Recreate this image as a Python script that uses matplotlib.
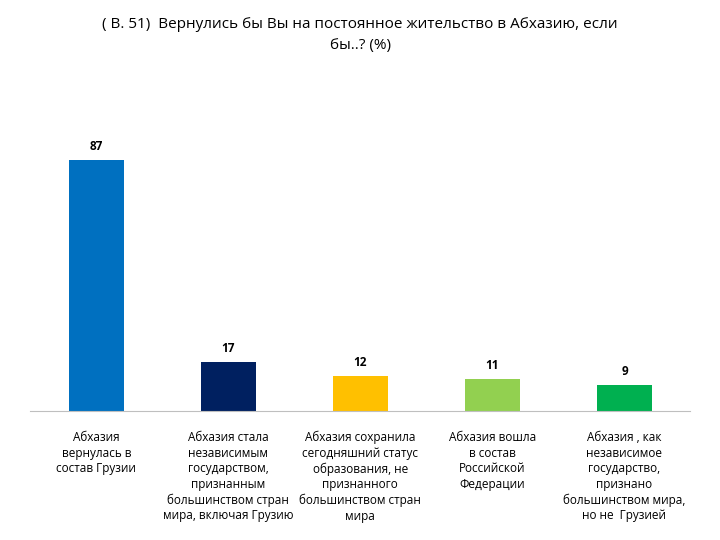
import matplotlib
matplotlib.use("Agg")
import matplotlib.pyplot as plt

categories = ["Абхазия\nвернулась в\nсостав Грузии",
              "Абхазия стала\nнезависимым\nгосударством,\nпризнанным\nбольшинством стран\nмира, включая Грузию",
              "Абхазия сохранила\nсегодняшний статус\nобразования, не\nпризнанного\nбольшинством стран\nмира",
              "Абхазия вошла\nв состав\nРоссийской\nФедерации",
              "Абхазия , как\nнезависимое\nгосударство,\nпризнано\nбольшинством мира,\nно не  Грузией"]
values = [87, 17, 12, 11, 9]
colors = ["#0070C0", "#002060", "#FFC000", "#92D050", "#00B050"]

plt.rcParams['font.family'] = ['Open Sans', 'DejaVu Sans']
fig = plt.figure(figsize=(7.2, 5.4), dpi=100)
ax = fig.add_axes([0.042, 0.239, 0.917, 0.576])
x = list(range(len(values)))
ax.bar(x, values, width=0.42, color=colors)
for xi, v in zip(x, values):
    ax.text(xi, v + 2.5, str(v), ha='center', va='bottom', fontsize=8.5, fontweight='bold')
ax.set_xlim(-0.5, 4.5)
ax.set_ylim(0, 108)
ax.set_yticks([])
ax.set_xticks([])
for s in ['top', 'right', 'left']:
    ax.spines[s].set_visible(False)
ax.spines['bottom'].set_color('#BFBFBF')
for xi, c in zip(x, categories):
    ax.text(xi, -7, c, ha='center', va='top', fontsize=8.5, linespacing=1.25)
fig.text(0.5, 0.935, "( В. 51)  Вернулись бы Вы на постоянное жительство в Абхазию, если\nбы..? (%)",
         ha='center', va='center', fontsize=11, linespacing=1.5)
fig.savefig("out.png", dpi=100)
